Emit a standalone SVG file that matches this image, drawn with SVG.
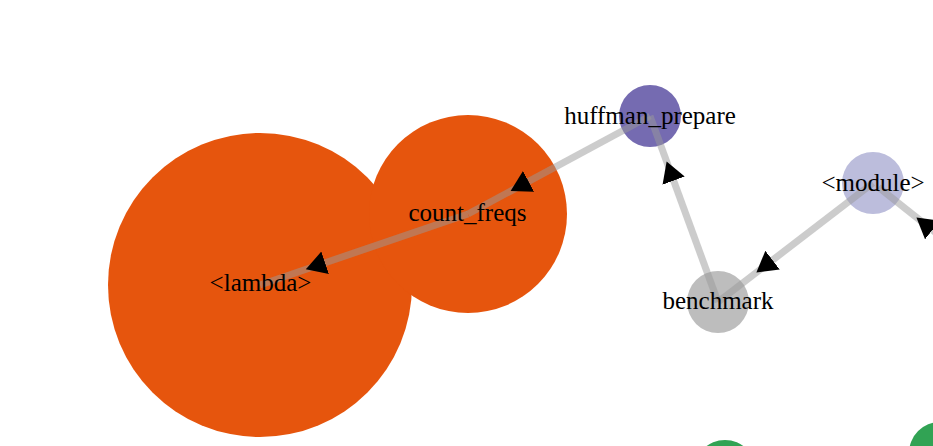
<svg xmlns="http://www.w3.org/2000/svg" width="933" height="446" viewBox="0 0 933 446">
  <style>
    .label { font-family: "Liberation Serif", "Times New Roman", serif; font-size: 25px; fill: #000; text-anchor: middle; }
    .link { stroke: #999; stroke-opacity: 0.5; stroke-width: 7; fill: none; marker-end: url(#arrow); }
  </style>
  <defs>
    <marker id="arrow" markerUnits="userSpaceOnUse" markerWidth="21" markerHeight="24" refX="68.8" refY="11.8" orient="auto">
      <path d="M0,0 L20.4,11.8 L0,23.6 Z" fill="#000"/>
    </marker>
  </defs>
  <rect width="933" height="446" fill="#fff"/>
  <g id="nodes">
    <g id="node-lambda" class="node">
      <circle cx="260" cy="285" r="152" fill="#e6550d"/>
    </g>
    <g id="node-count_freqs" class="node">
      <circle cx="468" cy="214" r="99" fill="#e6550d"/>
    </g>
    <g id="node-huffman_prepare" class="node">
      <circle cx="650" cy="116" r="31" fill="#756bb1"/>
    </g>
    <g id="node-module" class="node">
      <circle cx="873" cy="183" r="31" fill="#bcbddc"/>
    </g>
    <g id="node-benchmark" class="node">
      <circle cx="718" cy="302" r="31" fill="#bdbdbd"/>
    </g>
    <g id="node-green-1" class="node">
      <circle cx="725" cy="471" r="31" fill="#31a354"/>
    </g>
    <g id="node-green-2" class="node">
      <circle cx="940" cy="453" r="31" fill="#31a354"/>
    </g>
  </g>
  <g id="connectors">
    <line class="link" x1="650" y1="116" x2="468" y2="214"/>
    <line class="link" x1="468" y1="214" x2="260" y2="285"/>
    <line class="link" x1="718" y1="302" x2="650" y2="116"/>
    <line class="link" x1="873" y1="183" x2="718" y2="302"/>
    <line class="link" x1="1115" y1="375" x2="878.5" y2="187.3"/>
  </g>
  <g id="labels">
    <text id="label-lambda" class="label" x="260.5" y="291">&lt;lambda&gt;</text>
    <text id="label-count_freqs" class="label" x="467.5" y="221">count_freqs</text>
    <text id="label-huffman_prepare" class="label" x="650" y="124">huffman_prepare</text>
    <text id="label-module" class="label" x="873" y="191">&lt;module&gt;</text>
    <text id="label-benchmark" class="label" x="718" y="309">benchmark</text>
  </g>
</svg>
